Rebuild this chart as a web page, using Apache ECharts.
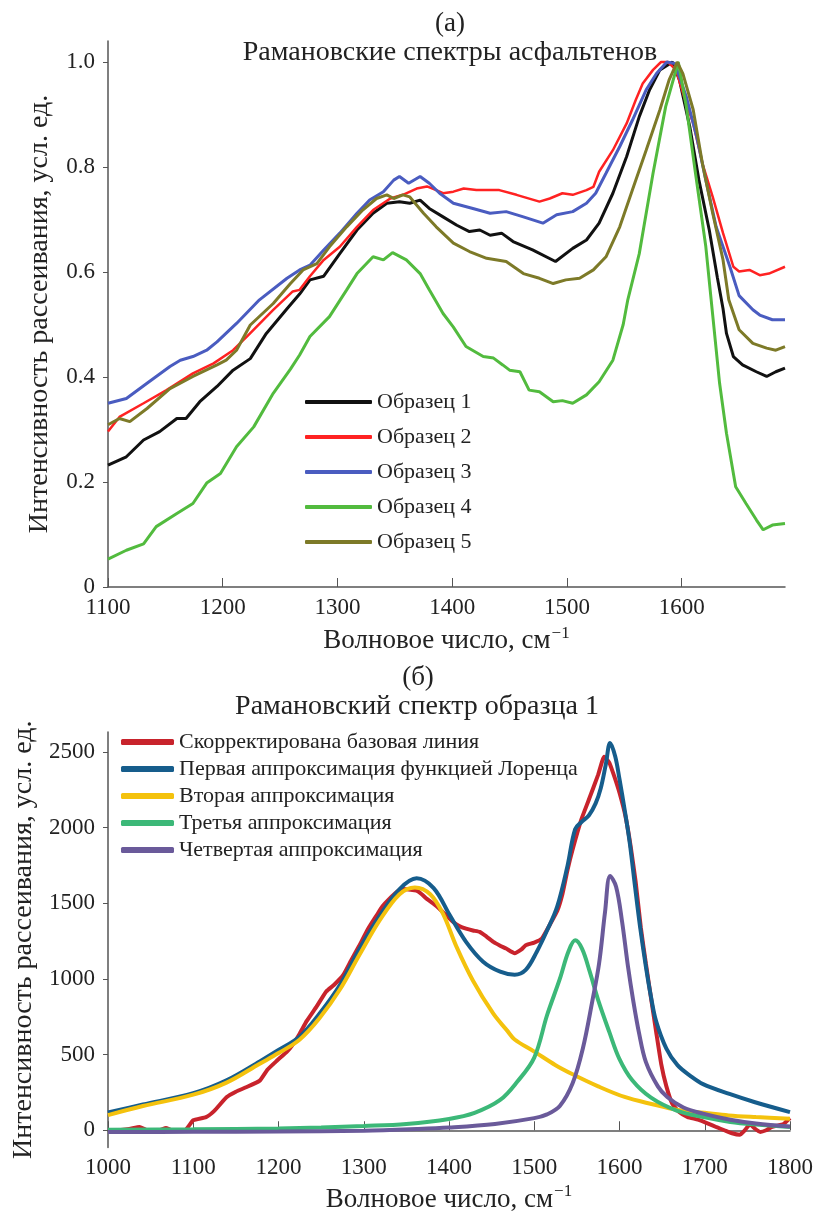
<!DOCTYPE html>
<html>
<head>
<meta charset="utf-8">
<script src="https://cdn.jsdelivr.net/npm/echarts@6/dist/echarts.min.js"></script>
<style>
  html, body { margin: 0; padding: 0; background: #fff; }
  #chart { width: 818px; height: 1214px; }
</style>
</head>
<body>
<div id="chart"></div>
<script>
// ---- (а) Рамановские спектры асфальтенов: [волновое число, интенсивность] ----
const sample1 = [[1100,0.232],[1116,0.248],[1131,0.280],[1145,0.296],[1160,0.321],[1168,0.321],[1180,0.353],[1195,0.382],[1209,0.413],[1224,0.435],[1238,0.483],[1256,0.530],[1267,0.558],[1276,0.585],[1288,0.592],[1302,0.635],[1317,0.680],[1331,0.712],[1343,0.731],[1354,0.734],[1363,0.731],[1372,0.737],[1380,0.721],[1392,0.705],[1404,0.689],[1415,0.677],[1424,0.680],[1433,0.670],[1443,0.674],[1453,0.658],[1470,0.642],[1490,0.620],[1505,0.645],[1517,0.661],[1528,0.693],[1540,0.750],[1552,0.820],[1563,0.896],[1572,0.947],[1581,0.985],[1592,1.0],[1598,0.966],[1607,0.877],[1615,0.775],[1624,0.680],[1631,0.590],[1636,0.530],[1639,0.483],[1645,0.439],[1653,0.423],[1665,0.410],[1674,0.401],[1682,0.410],[1690,0.417]];
const sample2 = [[1100,0.296],[1110,0.324],[1131,0.350],[1151,0.375],[1174,0.407],[1192,0.426],[1209,0.451],[1221,0.477],[1244,0.528],[1261,0.563],[1267,0.566],[1276,0.592],[1288,0.623],[1302,0.648],[1317,0.686],[1331,0.718],[1346,0.740],[1357,0.747],[1369,0.759],[1378,0.763],[1386,0.756],[1392,0.750],[1401,0.753],[1410,0.759],[1421,0.756],[1433,0.756],[1441,0.756],[1456,0.747],[1476,0.734],[1485,0.740],[1496,0.750],[1505,0.747],[1517,0.756],[1523,0.762],[1528,0.791],[1540,0.832],[1552,0.883],[1560,0.928],[1566,0.959],[1575,0.985],[1582,1.0],[1588,1.0],[1595,0.985],[1602,0.934],[1610,0.883],[1618,0.807],[1627,0.743],[1636,0.674],[1645,0.610],[1650,0.601],[1659,0.604],[1668,0.594],[1676,0.597],[1690,0.610]];
const sample3 = [[1100,0.350],[1116,0.359],[1134,0.388],[1154,0.420],[1163,0.432],[1174,0.439],[1186,0.451],[1195,0.467],[1212,0.502],[1232,0.547],[1256,0.588],[1267,0.604],[1276,0.613],[1288,0.642],[1302,0.674],[1317,0.712],[1328,0.737],[1340,0.753],[1349,0.775],[1354,0.782],[1362,0.769],[1372,0.782],[1380,0.769],[1389,0.750],[1401,0.731],[1418,0.721],[1433,0.712],[1447,0.715],[1462,0.705],[1479,0.693],[1491,0.709],[1505,0.715],[1517,0.731],[1525,0.750],[1534,0.788],[1546,0.839],[1557,0.889],[1569,0.947],[1578,0.978],[1587,1.0],[1594,0.997],[1604,0.934],[1613,0.858],[1621,0.775],[1630,0.686],[1642,0.610],[1650,0.555],[1662,0.528],[1668,0.518],[1679,0.509],[1690,0.509]];
const sample4 = [[1100,0.053],[1116,0.070],[1131,0.082],[1142,0.115],[1160,0.140],[1174,0.159],[1186,0.198],[1198,0.216],[1212,0.267],[1227,0.305],[1244,0.369],[1259,0.415],[1267,0.442],[1276,0.477],[1293,0.515],[1308,0.566],[1317,0.597],[1331,0.629],[1340,0.623],[1348,0.637],[1360,0.623],[1372,0.597],[1380,0.566],[1392,0.521],[1401,0.495],[1412,0.458],[1427,0.439],[1436,0.436],[1444,0.423],[1450,0.413],[1459,0.410],[1467,0.375],[1476,0.372],[1488,0.353],[1496,0.355],[1505,0.350],[1517,0.366],[1528,0.391],[1540,0.432],[1549,0.500],[1553,0.547],[1563,0.635],[1575,0.788],[1586,0.915],[1597,1.0],[1604,0.915],[1612,0.788],[1621,0.648],[1627,0.518],[1633,0.388],[1639,0.293],[1647,0.191],[1656,0.159],[1665,0.128],[1671,0.109],[1679,0.118],[1690,0.121]];
const sample5 = [[1100,0.309],[1110,0.321],[1119,0.315],[1134,0.340],[1154,0.378],[1174,0.401],[1195,0.423],[1203,0.432],[1212,0.451],[1224,0.499],[1244,0.540],[1259,0.578],[1270,0.604],[1282,0.616],[1293,0.648],[1308,0.686],[1322,0.718],[1334,0.740],[1343,0.747],[1349,0.740],[1357,0.747],[1363,0.743],[1375,0.712],[1386,0.686],[1401,0.655],[1415,0.639],[1430,0.626],[1447,0.620],[1462,0.597],[1476,0.588],[1488,0.578],[1499,0.585],[1511,0.588],[1523,0.604],[1534,0.629],[1546,0.686],[1557,0.756],[1569,0.832],[1581,0.909],[1589,0.966],[1596,1.0],[1601,0.978],[1610,0.909],[1618,0.807],[1627,0.712],[1636,0.623],[1641,0.547],[1650,0.490],[1662,0.464],[1674,0.455],[1682,0.451],[1690,0.458]];
const namesA = ["Образец 1", "Образец 2", "Образец 3", "Образец 4", "Образец 5"];
const ticksAx = [1100, 1200, 1300, 1400, 1500, 1600];
const ticksAy = [0, 0.2, 0.4, 0.6, 0.8, 1.0];

// ---- (б) Рамановский спектр образца 1 ----
const baseline = [[1000,0],[1015,2],[1025,8],[1037,22],[1045,2],[1060,0],[1068,15],[1075,0],[1090,0],[1100,66],[1115,87],[1125,130],[1139,218],[1150,255],[1162,284],[1178,328],[1187,400],[1198,459],[1210,520],[1217,568],[1225,640],[1233,721],[1245,820],[1256,917],[1265,960],[1276,1026],[1285,1120],[1295,1223],[1305,1330],[1315,1419],[1322,1480],[1330,1529],[1340,1580],[1346,1594],[1355,1590],[1362,1583],[1368,1560],[1374,1529],[1381,1500],[1389,1463],[1397,1420],[1405,1376],[1412,1350],[1420,1332],[1428,1320],[1436,1311],[1444,1280],[1452,1245],[1460,1220],[1467,1201],[1477,1170],[1485,1195],[1490,1223],[1500,1240],[1509,1267],[1520,1376],[1527,1450],[1533,1560],[1539,1720],[1545,1856],[1555,2050],[1564,2184],[1575,2350],[1582,2468],[1588,2430],[1594,2337],[1600,2230],[1607,2075],[1613,1880],[1619,1640],[1625,1340],[1631,1100],[1637,873],[1643,650],[1649,436],[1655,290],[1662,174],[1670,120],[1680,87],[1692,70],[1704,44],[1714,20],[1723,0],[1732,-20],[1741,-30],[1747,0],[1753,40],[1759,10],[1765,-11],[1772,0],[1778,20],[1784,30],[1792,40],[1800,80]];
const fit1 = [[1000,118],[1041,170],[1100,245],[1139,330],[1178,455],[1200,530],[1225,620],[1248,770],[1272,960],[1295,1200],[1319,1420],[1342,1594],[1362,1665],[1382,1600],[1401,1420],[1420,1245],[1440,1114],[1460,1048],[1477,1028],[1490,1060],[1503,1180],[1515,1320],[1527,1480],[1539,1747],[1548,1990],[1556,2040],[1564,2080],[1572,2160],[1578,2260],[1584,2420],[1589,2560],[1595,2470],[1600,2320],[1606,2120],[1612,1900],[1618,1620],[1624,1350],[1631,1080],[1637,880],[1643,720],[1655,540],[1668,430],[1683,360],[1698,305],[1729,240],[1759,185],[1800,120]];
const fit2 = [[1000,100],[1041,160],[1100,235],[1139,315],[1178,440],[1200,510],[1225,600],[1248,740],[1272,930],[1295,1160],[1319,1390],[1342,1560],[1360,1605],[1378,1560],[1393,1430],[1409,1210],[1428,990],[1452,770],[1468,660],[1477,600],[1500,520],[1525,430],[1545,370],[1575,290],[1606,220],[1640,170],[1667,135],[1700,115],[1728,98],[1760,87],[1800,76]];
const fit3 = [[1000,3],[1100,6],[1200,12],[1250,18],[1300,28],[1350,42],[1400,75],[1430,115],[1460,200],[1480,320],[1500,480],[1515,760],[1530,1000],[1540,1180],[1548,1255],[1556,1200],[1565,1050],[1575,860],[1588,650],[1600,470],[1615,330],[1637,215],[1667,130],[1700,85],[1730,55],[1760,38],[1800,22]];
const fit4 = [[1000,-12],[1100,-10],[1200,-8],[1300,-3],[1362,8],[1400,18],[1454,42],[1500,80],[1515,105],[1530,160],[1545,310],[1557,540],[1568,850],[1576,1100],[1583,1440],[1589,1680],[1596,1610],[1603,1380],[1610,1080],[1616,860],[1623,640],[1631,450],[1645,290],[1656,220],[1675,150],[1698,110],[1730,70],[1760,45],[1800,25]];
const namesB = ["Скорректирована базовая линия", "Первая аппроксимация функцией Лоренца", "Вторая аппроксимация", "Третья аппроксимация", "Четвертая аппроксимация"];
const ticksBy = [0, 500, 1000, 1500, 2000, 2500];

const FONT = "'Liberation Serif', 'DejaVu Serif', serif";
const TXT = "#222";
const AXIS = "#555";

let chart = echarts.init(document.getElementById("chart"));

function axisBase() {
  return {
    axisLine: { show: true, lineStyle: { color: AXIS, width: 1.5 } },
    splitLine: { show: false },
    nameTextStyle: { color: TXT, fontFamily: FONT, fontSize: 28 },
  };
}

function xName() {
  return {
    name: "{a|Волновое число, см}{s|−1}",
    nameLocation: "middle",
    nameTextStyle: {
      rich: {
        a: { color: TXT, fontFamily: FONT, fontSize: 27 },
        s: { color: TXT, fontFamily: FONT, fontSize: 17, padding: [0, 0, 15, 1] },
      },
    },
  };
}

let seriesA = [sample1, sample2, sample3, sample4, sample5].map((d, i) => ({
  name: namesA[i],
  type: "line",
  xAxisIndex: 0,
  yAxisIndex: 0,
  data: d,
  symbol: "none",
  lineStyle: { width: [3, 2.5, 3, 3, 3][i] },
  color: ["#111111", "#ff2222", "#4a5cc0", "#52bb3e", "#7d7a28"][i],
}));

let seriesB = [baseline, fit1, fit2, fit3, fit4].map((d, i) => ({
  name: namesB[i],
  type: "line",
  xAxisIndex: 1,
  yAxisIndex: 1,
  data: d,
  symbol: "none",
  smooth: i === 0 ? 0.15 : 0.35,
  lineStyle: { width: 4 },
  color: ["#c8232c", "#165d8c", "#f4c20d", "#3cb878", "#6a5a9a"][i],
}));

function label(x, y, text, size) {
  return {
    type: "text",
    x: x,
    y: y,
    style: {
      text: text,
      fontSize: size,
      fontFamily: FONT,
      fill: TXT,
      align: "center",
      verticalAlign: "middle",
      textAlign: "center",
      textVerticalAlign: "middle",
    },
  };
}

const plain = (v) => String(v);

let option = {
  backgroundColor: "#fff",
  animation: false,
  graphic: [
    label(450, 24, "(а)", 27),
    label(450, 53, "Рамановские спектры асфальтенов", 28),
    label(418, 678, "(б)", 27),
    label(417, 707, "Рамановский спектр образца 1", 28),
  ],
  grid: [
    { left: 108, right: 33, top: 41, height: 546 },
    { left: 108, right: 28, top: 732, height: 419 },
  ],
  xAxis: [
    Object.assign(axisBase(), xName(), {
      type: "value",
      gridIndex: 0,
      min: 1100,
      max: 1690,
      nameGap: 38,
      axisTick: { show: true, inside: true, length: 9, customValues: ticksAx, lineStyle: { color: AXIS } },
      axisLabel: { color: TXT, fontFamily: FONT, fontSize: 23, margin: 9, customValues: ticksAx, formatter: plain },
    }),
    Object.assign(axisBase(), xName(), {
      type: "value",
      gridIndex: 1,
      min: 1000,
      max: 1800,
      interval: 100,
      nameGap: 36,
      axisTick: { show: true, inside: true, length: 9, lineStyle: { color: AXIS } },
      axisLabel: { color: TXT, fontFamily: FONT, fontSize: 23, margin: 9, formatter: plain },
    }),
  ],
  yAxis: [
    Object.assign(axisBase(), {
      type: "value",
      gridIndex: 0,
      min: 0,
      max: 1.04,
      name: "Интенсивность рассеивания, усл. ед.",
      nameLocation: "middle",
      nameGap: 54,
      axisTick: { show: true, inside: false, length: 5, customValues: ticksAy, lineStyle: { color: AXIS } },
      axisLabel: {
        color: TXT, fontFamily: FONT, fontSize: 23, margin: 13, customValues: ticksAy,
        formatter: (v) => (v === 0 ? "0" : v.toFixed(1)),
      },
    }),
    Object.assign(axisBase(), {
      type: "value",
      gridIndex: 1,
      min: -114,
      max: 2632,
      name: "Интенсивность рассеивания, усл. ед.",
      nameLocation: "middle",
      nameGap: 54,
      axisTick: { show: true, inside: false, length: 5, customValues: ticksBy, lineStyle: { color: AXIS } },
      axisLabel: { color: TXT, fontFamily: FONT, fontSize: 23, margin: 13, customValues: ticksBy, formatter: plain },
    }),
  ],
  legend: [
    {
      data: namesA,
      orient: "vertical",
      left: 300,
      top: 386,
      icon: "roundRect",
      itemWidth: 67,
      itemHeight: 4,
      itemGap: 13,
      textStyle: { color: TXT, fontFamily: FONT, fontSize: 22 },
    },
    {
      data: namesB,
      orient: "vertical",
      left: 116,
      top: 726,
      icon: "roundRect",
      itemWidth: 53,
      itemHeight: 6,
      itemGap: 5,
      textStyle: { color: TXT, fontFamily: FONT, fontSize: 22 },
    },
  ],
  series: seriesA.concat(seriesB),
};

chart.setOption(option);
</script>
</body>
</html>
